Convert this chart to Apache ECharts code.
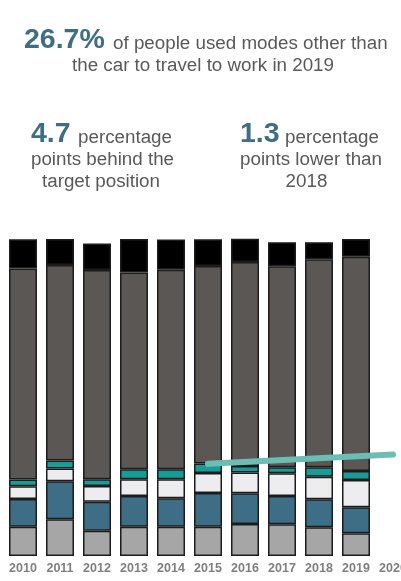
<!DOCTYPE html>
<html>
<head>
<meta charset="utf-8">
<script src="https://cdn.jsdelivr.net/npm/echarts@6/dist/echarts.min.js"></script>
<style>
html,body{margin:0;padding:0;background:#fff;}
#c{width:401px;height:581px;}
</style>
</head>
<body>
<div id="c"></div>
<script>
// Categories
const years = ['2010','2011','2012','2013','2014','2015','2016','2017','2018','2019','2020'];
// Stacked shares (%), bottom to top
const modeA = [9.2, 11.6, 8.0, 9.2, 9.2, 9.2, 10.1, 10.0, 9.1, 7.2, null];   // light grey
const modeB = [8.8, 12.0, 9.1, 9.7, 9.0, 10.7, 9.7, 8.9, 8.8, 8.2, null];    // steel blue
const modeC = [4.0, 4.0, 5.0, 5.3, 6.0, 6.3, 6.5, 7.2, 7.1, 8.6, null];      // pale
const modeD = [2.1, 2.5, 2.1, 3.2, 3.2, 3.0, 2.1, 1.9, 3.0, 2.8, null];      // teal
const carDriver = [66.6, 61.7, 66.0, 62.0, 62.9, 62.3, 64.3, 63.4, 65.6, 67.6, null]; // dark grey
const carPassenger = [9.2, 8.2, 8.4, 10.6, 9.5, 8.4, 7.4, 7.6, 5.4, 5.6, null];     // black
// Target trajectory (non-car share)
const target = [null, null, null, null, null, 29.1, null, null, null, null, 32.0];

const FONT = '"Liberation Sans", Arial, sans-serif';
const chart = echarts.init(document.getElementById('c'), null, {renderer: 'canvas'});

function txt(x, y, text, size, opts) {
  opts = opts || {};
  return {
    type: 'text',
    z: 100,
    style: {
      x: x,
      y: y - 0.347 * size,
      text: text,
      font: (opts.bold ? 'bold ' : '') + size + 'px ' + FONT,
      fill: opts.color || '#595959',
      textAlign: opts.align || 'left',
      textVerticalAlign: 'middle',
      verticalAlign: 'middle'
    }
  };
}

const NUM = '#3d6e85';
const segBorder = {borderColor: '#1c1c1c', borderWidth: 1.5};

function bar(name, data, color) {
  return {
    name: name,
    type: 'bar',
    stack: 'total',
    data: data,
    barWidth: 28,
    itemStyle: Object.assign({color: color}, segBorder),
    emphasis: {disabled: true},
    animation: false
  };
}

chart.setOption({
  backgroundColor: '#ffffff',
  animation: false,
  grid: {left: 4.5, width: 407, top: 235.8, bottom: 25, containLabel: false, outerBoundsMode: 'none'},
  xAxis: {
    type: 'category',
    data: years,
    axisLine: {show: false},
    axisTick: {show: false},
    axisLabel: {
      color: '#7f7f7f',
      fontWeight: 'bold',
      fontSize: 12.5,
      fontFamily: FONT,
      margin: 6,
      interval: 0,
      hideOverlap: false
    }
  },
  yAxis: {
    type: 'value',
    min: 0,
    max: 101,
    show: false,
    splitLine: {show: false}
  },
  series: [
    bar('Mode A', modeA, '#a6a6a6'),
    bar('Mode B', modeB, '#3d6e86'),
    bar('Mode C', modeC, '#ededf0'),
    bar('Mode D', modeD, '#1a9c96'),
    bar('Car driver', carDriver, '#5b5754'),
    bar('Car passenger', carPassenger, '#000000'),
    {
      name: 'Target',
      type: 'line',
      data: target,
      connectNulls: true,
      symbol: 'none',
      z: 10,
      clip: false,
      lineStyle: {color: '#6dbdb5', width: 6, cap: 'round'},
      emphasis: {disabled: true},
      animation: false
    }
  ],
  graphic: [
    txt(24, 50, '26.7%', 28.5, {bold: true, color: NUM}),
    txt(113, 50, 'of people used modes other than', 18.8),
    txt(203, 72.7, 'the car to travel to work in 2019', 18.8, {align: 'center'}),
    txt(31, 144, '4.7', 28.5, {bold: true, color: NUM}),
    txt(78, 144, 'percentage', 18.8),
    txt(102.5, 166, 'points behind the', 18.8, {align: 'center'}),
    txt(101, 188, 'target position', 18.8, {align: 'center'}),
    txt(240, 144, '1.3', 28.5, {bold: true, color: NUM}),
    txt(285, 144, 'percentage', 18.8),
    txt(311, 166, 'points lower than', 18.8, {align: 'center'}),
    txt(306.5, 188, '2018', 18.8, {align: 'center'})
  ]
});
</script>
</body>
</html>
